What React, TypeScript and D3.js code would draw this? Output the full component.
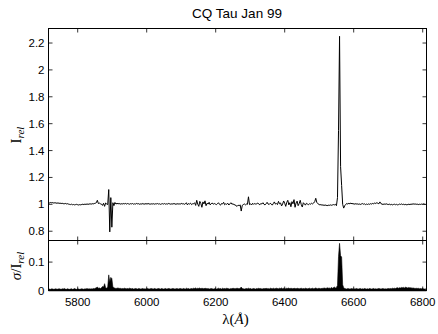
import React from "react";
import * as d3 from "d3";

// wavelength sampling grid (Å)
const WL_START = 5716;
const WL_STEP = 3;

// relative intensity I_rel, one value per grid step
const FLUX: number[] = [
  1.012,1.010,1.014,1.011,1.013,1.009,1.012,1.010,1.008,1.011,1.007,1.009,1.006,1.008,1.005,1.004,1.007,1.003,1.005,1.002,
  1.000,0.998,1.001,0.997,0.999,0.996,0.998,1.000,0.997,0.995,0.998,0.996,0.999,1.001,0.998,1.002,0.999,1.003,1.000,1.002,
  1.004,1.001,1.005,1.003,1.006,1.008,1.012,1.030,1.006,1.009,1.004,1.002,0.992,1.008,0.985,1.010,1.003,0.998,1.110,0.795,
  1.050,0.830,1.012,0.990,1.014,1.002,1.008,1.003,1.007,1.001,1.005,1.002,1.006,1.003,1.007,1.002,1.006,1.004,1.001,1.005,
  1.003,1.006,1.001,1.004,1.002,1.007,1.003,1.005,1.000,1.004,1.002,1.006,1.001,1.003,1.005,1.002,1.006,1.003,1.001,1.004,
  1.002,1.005,1.001,1.004,1.003,1.006,1.002,1.004,1.000,1.003,1.005,1.002,1.006,1.001,1.004,1.002,1.007,1.003,1.001,1.004,
  1.002,1.006,1.003,1.000,1.005,1.002,1.004,1.001,1.007,1.003,1.005,1.000,1.004,1.012,0.996,1.006,1.002,1.009,0.998,1.004,
  1.004,1.012,0.992,1.030,1.001,0.985,1.022,1.006,0.978,1.018,1.003,1.026,0.990,1.008,1.002,1.015,0.996,1.005,1.010,1.001,
  1.006,1.002,0.998,1.004,1.012,1.000,0.994,1.006,1.003,1.015,0.997,1.004,1.000,1.008,0.995,1.003,1.012,1.001,1.004,0.998,
  0.996,0.990,0.985,0.994,0.990,0.996,0.950,0.992,0.998,1.003,0.996,1.002,1.000,1.056,0.998,1.004,0.995,1.008,1.000,1.006,
  1.002,1.004,1.010,1.001,0.998,1.005,1.003,1.012,1.000,0.996,1.004,1.015,1.002,0.999,1.008,1.003,0.994,1.006,1.018,1.002,
  1.006,0.998,1.022,1.004,1.010,0.988,1.003,1.025,1.008,0.985,1.015,1.030,0.996,1.012,0.982,1.020,1.004,1.035,0.978,1.010,
  1.024,0.990,1.006,1.030,0.998,0.980,1.012,1.004,0.994,1.008,1.002,0.997,1.005,1.001,1.008,1.003,1.010,1.020,1.045,1.015,
  1.005,1.000,0.996,0.998,0.994,0.996,0.992,0.995,0.993,0.990,0.994,0.992,0.996,0.993,0.995,0.998,0.996,1.000,0.990,1.050,
  1.550,2.250,1.280,1.140,1.000,0.972,0.990,1.000,1.006,1.002,1.008,1.004,1.010,1.003,1.007,1.000,1.005,1.002,1.004,1.000,
  1.003,0.999,1.002,1.006,1.001,1.004,0.998,1.002,0.999,1.003,1.000,1.005,1.002,1.007,1.004,1.010,1.006,1.012,1.008,1.004,
  1.018,1.005,1.002,0.999,1.003,1.000,1.004,1.001,0.998,1.002,0.997,1.000,0.996,0.999,1.001,0.997,1.000,0.996,0.998,1.002,
  0.999,1.003,0.998,1.001,0.997,1.000,0.996,0.999,1.001,0.998,1.002,1.000,1.004,1.001,1.003,1.000,1.002,0.998,1.001,0.999,
  1.002,1.000,1.003,1.001,0.999,
];

// sigma / I_rel, same grid
const SIGMA: number[] = [
  0.004,0.005,0.004,0.006,0.005,0.004,0.005,0.006,0.004,0.005,0.006,0.005,0.004,0.006,0.005,0.007,0.005,0.004,0.006,0.005,
  0.004,0.005,0.006,0.004,0.005,0.007,0.005,0.004,0.006,0.005,0.004,0.005,0.006,0.005,0.004,0.006,0.005,0.007,0.005,0.006,
  0.005,0.006,0.005,0.007,0.006,0.008,0.010,0.012,0.008,0.009,0.007,0.010,0.014,0.012,0.024,0.010,0.008,0.012,0.055,0.030,
  0.046,0.042,0.012,0.010,0.008,0.007,0.008,0.009,0.007,0.008,0.006,0.007,0.006,0.008,0.007,0.006,0.007,0.006,0.008,0.007,
  0.006,0.007,0.005,0.006,0.007,0.006,0.005,0.007,0.006,0.005,0.006,0.007,0.005,0.006,0.005,0.007,0.006,0.005,0.006,0.007,
  0.006,0.005,0.007,0.006,0.005,0.006,0.007,0.006,0.005,0.007,0.006,0.005,0.006,0.007,0.005,0.006,0.007,0.006,0.005,0.006,
  0.007,0.006,0.005,0.006,0.007,0.005,0.006,0.007,0.006,0.005,0.007,0.006,0.005,0.008,0.006,0.007,0.005,0.006,0.007,0.006,
  0.008,0.007,0.009,0.006,0.008,0.007,0.009,0.006,0.008,0.007,0.006,0.008,0.007,0.006,0.007,0.005,0.006,0.007,0.006,0.005,
  0.006,0.007,0.005,0.006,0.008,0.006,0.007,0.005,0.008,0.006,0.007,0.006,0.008,0.007,0.006,0.005,0.007,0.006,0.008,0.007,
  0.006,0.007,0.008,0.007,0.006,0.008,0.012,0.007,0.006,0.005,0.006,0.007,0.006,0.008,0.006,0.007,0.005,0.006,0.007,0.006,
  0.005,0.007,0.006,0.008,0.006,0.007,0.005,0.006,0.007,0.006,0.008,0.006,0.007,0.005,0.008,0.007,0.006,0.008,0.006,0.007,
  0.008,0.007,0.006,0.008,0.007,0.009,0.006,0.008,0.007,0.006,0.008,0.007,0.009,0.006,0.008,0.007,0.006,0.008,0.007,0.006,
  0.008,0.007,0.006,0.007,0.008,0.006,0.007,0.006,0.008,0.007,0.006,0.007,0.008,0.006,0.007,0.008,0.006,0.007,0.009,0.007,
  0.006,0.008,0.007,0.006,0.008,0.007,0.009,0.008,0.007,0.010,0.008,0.009,0.007,0.011,0.008,0.010,0.012,0.009,0.011,0.018,
  0.120,0.166,0.122,0.118,0.020,0.010,0.007,0.006,0.005,0.007,0.006,0.005,0.006,0.007,0.005,0.006,0.005,0.007,0.006,0.005,
  0.006,0.007,0.005,0.006,0.005,0.007,0.006,0.005,0.006,0.005,0.007,0.006,0.005,0.006,0.007,0.005,0.006,0.005,0.006,0.007,
  0.006,0.005,0.006,0.007,0.005,0.006,0.005,0.006,0.007,0.006,0.007,0.006,0.008,0.007,0.008,0.007,0.009,0.010,0.008,0.010,
  0.009,0.011,0.010,0.011,0.009,0.012,0.010,0.009,0.011,0.009,0.010,0.008,0.009,0.008,0.007,0.008,0.007,0.008,0.006,0.007,
  0.006,0.007,0.006,0.005,0.006,
];

const X_TICKS = [5800, 6000, 6200, 6400, 6600, 6800];
const Y_TICKS_TOP = [0.8, 1, 1.2, 1.4, 1.6, 1.8, 2, 2.2];
const Y_TICKS_BOT = [0, 0.1];
const TITLE = "CQ Tau Jan 99";

const L = 48.5, R = 426.5, T1 = 28.5, B1 = 240.5, B2 = 290.5;
const TICK = 4;
const SANS = "'Liberation Sans', Arial, Helvetica, sans-serif";
const SERIF = "'Liberation Serif', 'Times New Roman', serif";

export default function App() {
  const x = d3.scaleLinear().domain([5715.4, 6811]).range([L, R]);
  const yTop = d3.scaleLinear().domain([0.731, 2.308]).range([B1, T1]);
  const yBot = d3.scaleLinear().domain([0, 0.176]).range([B2, B1]);
  const wl = FLUX.map((_, i) => WL_START + WL_STEP * i);

  const line = d3.line<number>().x((_, i) => x(wl[i])).y((d) => yTop(d));
  const area = d3
    .area<number>()
    .x((_, i) => x(wl[i]))
    .y0(yBot(0))
    .y1((d) => yBot(d));

  const xTickMarks = (yA: number, yB: number, key: string) =>
    X_TICKS.map((t) => (
      <g key={key + t}>
        <line x1={x(t)} x2={x(t)} y1={yA} y2={yA - TICK} stroke="#000" strokeWidth={0.8} />
        <line x1={x(t)} x2={x(t)} y1={yB} y2={yB + TICK} stroke="#000" strokeWidth={0.8} />
      </g>
    ));

  return (
    <svg
      width={438}
      height={334}
      style={{ position: "absolute", left: 0, top: 0, background: "#fff" }}
    >
      <rect x={0} y={0} width={438} height={334} fill="#fff" />
      <text x={237} y={18} textAnchor="middle" fontFamily={SANS} fontSize={13.5}>
        {TITLE}
      </text>

      {/* top panel */}
      <clipPath id="c1">
        <rect x={L} y={T1} width={R - L} height={B1 - T1} />
      </clipPath>
      <path d={line(FLUX) || ""} fill="none" stroke="#000" strokeWidth={1} clipPath="url(#c1)" />

      {/* bottom panel */}
      <clipPath id="c2">
        <rect x={L} y={B1} width={R - L} height={B2 - B1} />
      </clipPath>
      <path d={area(SIGMA) || ""} fill="#000" stroke="#000" strokeWidth={0.6} clipPath="url(#c2)" />

      {/* frames */}
      <rect x={L} y={T1} width={R - L} height={B1 - T1} fill="none" stroke="#000" strokeWidth={1} />
      <rect x={L} y={B1} width={R - L} height={B2 - B1} fill="none" stroke="#000" strokeWidth={1} />
      <line x1={L} x2={R} y1={B2} y2={B2} stroke="#000" strokeWidth={1.6} />

      {xTickMarks(B1, T1, "t")}
      {xTickMarks(B2, B1, "b")}

      {Y_TICKS_TOP.map((t) => (
        <g key={"yt" + t}>
          <line x1={L} x2={L + TICK} y1={yTop(t)} y2={yTop(t)} stroke="#000" strokeWidth={0.8} />
          <line x1={R} x2={R - TICK} y1={yTop(t)} y2={yTop(t)} stroke="#000" strokeWidth={0.8} />
          <text x={L - 4} y={yTop(t)} dy="0.35em" textAnchor="end" fontFamily={SANS} fontSize={11.5}>
            {String(t)}
          </text>
        </g>
      ))}
      {Y_TICKS_BOT.map((t) => (
        <g key={"yb" + t}>
          <line x1={L} x2={L + TICK} y1={yBot(t)} y2={yBot(t)} stroke="#000" strokeWidth={0.8} />
          <line x1={R} x2={R - TICK} y1={yBot(t)} y2={yBot(t)} stroke="#000" strokeWidth={0.8} />
          <text x={L - 4} y={yBot(t)} dy="0.35em" textAnchor="end" fontFamily={SANS} fontSize={11.5}>
            {String(t)}
          </text>
        </g>
      ))}
      {X_TICKS.map((t) => (
        <text key={"xl" + t} x={x(t)} y={306} textAnchor="middle" fontFamily={SANS} fontSize={11.5}>
          {String(t)}
        </text>
      ))}

      {/* axis labels */}
      <text transform="translate(21,135) rotate(-90)" textAnchor="middle" fontFamily={SERIF} fontSize={15}>
        I
        <tspan fontStyle="italic" fontSize={11} dy={3}>rel</tspan>
      </text>
      <text transform="translate(21,266) rotate(-90)" textAnchor="middle" fontFamily={SERIF} fontSize={15}>
        <tspan fontStyle="italic">σ</tspan>/I
        <tspan fontStyle="italic" fontSize={11} dy={3}>rel</tspan>
      </text>
      <text x={235.5} y={324} textAnchor="middle" fontFamily={SERIF} fontSize={15}>
        λ(<tspan fontStyle="italic">Å</tspan>)
      </text>
    </svg>
  );
}
